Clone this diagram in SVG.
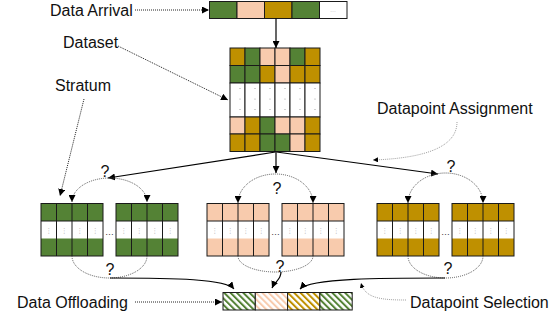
<svg xmlns="http://www.w3.org/2000/svg" width="559" height="320" viewBox="0 0 559 320">
<defs>
<style>
.lbl{font-family:"Liberation Sans",Arial,sans-serif;font-size:16px;fill:#111}
.q{font-family:"Liberation Sans",Arial,sans-serif;font-size:16px;fill:#111;text-anchor:middle}
.g{fill:#548235}.p{fill:#F8CBAD}.o{fill:#BF9000}.w{fill:#fff}
.cell{stroke:#1a1a1a;stroke-width:1}
.vd{font-family:"DejaVu Sans",sans-serif;font-size:7px;fill:#aaa;text-anchor:middle}
.ell{font-family:"Liberation Sans",Arial,sans-serif;font-size:9px;fill:#333;text-anchor:middle}
.solid{fill:none;stroke:#000;stroke-width:1.2}
.dot{fill:none;stroke:#222;stroke-width:1;stroke-dasharray:1 1}
.arc{fill:none;stroke:#555;stroke-width:1;stroke-dasharray:1 1}
.lead{fill:none;stroke:#888;stroke-width:0.8;stroke-dasharray:1 1}
</style>
<marker id="ah" viewBox="0 0 10 10" refX="10" refY="5" markerWidth="7" markerHeight="7" markerUnits="userSpaceOnUse" orient="auto-start-reverse"><path d="M0,0L10,5L0,10z" fill="#000"/></marker>
<marker id="ahs" viewBox="0 0 10 10" refX="10" refY="5" markerWidth="5" markerHeight="5" markerUnits="userSpaceOnUse" orient="auto"><path d="M0,0L10,5L0,10z" fill="#000"/></marker>
<pattern id="hg" width="4.5" height="4.5" patternUnits="userSpaceOnUse" patternTransform="rotate(-45)"><rect width="4.5" height="4.5" fill="#fff"/><rect width="2" height="4.5" fill="#548235"/></pattern>
<pattern id="hp" width="4.5" height="4.5" patternUnits="userSpaceOnUse" patternTransform="rotate(-45)"><rect width="4.5" height="4.5" fill="#fff"/><rect width="2" height="4.5" fill="#F8CBAD"/></pattern>
<pattern id="ho" width="4.5" height="4.5" patternUnits="userSpaceOnUse" patternTransform="rotate(-45)"><rect width="4.5" height="4.5" fill="#fff"/><rect width="2" height="4.5" fill="#BF9000"/></pattern>
</defs>
<rect width="559" height="320" fill="#fff"/>

<g id="data-arrival">
<rect class="g cell" x="209.5" y="1.5" width="27.5" height="17"/>
<rect class="p cell" x="237" y="1.5" width="27.5" height="17"/>
<rect class="o cell" x="264.5" y="1.5" width="27.5" height="17"/>
<rect class="g cell" x="292" y="1.5" width="27.5" height="17"/>
<rect class="w cell" x="319.5" y="1.5" width="27.5" height="17"/>
<text x="333" y="12" style="font-family:'Liberation Sans',sans-serif;font-size:6px;fill:#999;text-anchor:middle">…</text>
</g>

<g id="dataset">
<rect class="o cell" x="230" y="48" width="15" height="17.5"/>
<rect class="g cell" x="245" y="48" width="15" height="17.5"/>
<rect class="p cell" x="260" y="48" width="15" height="17.5"/>
<rect class="p cell" x="275" y="48" width="15" height="17.5"/>
<rect class="g cell" x="290" y="48" width="15" height="17.5"/>
<rect class="o cell" x="305" y="48" width="15" height="17.5"/>
<rect class="g cell" x="230" y="65.5" width="15" height="17.5"/>
<rect class="g cell" x="245" y="65.5" width="15" height="17.5"/>
<rect class="o cell" x="260" y="65.5" width="15" height="17.5"/>
<rect class="p cell" x="275" y="65.5" width="15" height="17.5"/>
<rect class="o cell" x="290" y="65.5" width="15" height="17.5"/>
<rect class="o cell" x="305" y="65.5" width="15" height="17.5"/>
<rect class="w cell" x="230" y="83" width="15" height="34"/>
<rect class="w cell" x="245" y="83" width="15" height="34"/>
<rect class="w cell" x="260" y="83" width="15" height="34"/>
<rect class="w cell" x="275" y="83" width="15" height="34"/>
<rect class="w cell" x="290" y="83" width="15" height="34"/>
<rect class="w cell" x="305" y="83" width="15" height="34"/>
<rect class="p cell" x="230" y="117" width="15" height="17"/>
<rect class="o cell" x="245" y="117" width="15" height="17"/>
<rect class="g cell" x="260" y="117" width="15" height="17"/>
<rect class="p cell" x="275" y="117" width="15" height="17"/>
<rect class="p cell" x="290" y="117" width="15" height="17"/>
<rect class="o cell" x="305" y="117" width="15" height="17"/>
<rect class="o cell" x="230" y="134" width="15" height="17.5"/>
<rect class="o cell" x="245" y="134" width="15" height="17.5"/>
<rect class="g cell" x="260" y="134" width="15" height="17.5"/>
<rect class="g cell" x="275" y="134" width="15" height="17.5"/>
<rect class="p cell" x="290" y="134" width="15" height="17.5"/>
<rect class="o cell" x="305" y="134" width="15" height="17.5"/>
<g fill="#999">
<circle cx="240" cy="88.5" r="0.6"/><circle cx="240" cy="99" r="0.6"/><circle cx="240" cy="109.5" r="0.6"/>
<circle cx="255" cy="88.5" r="0.6"/><circle cx="255" cy="99" r="0.6"/><circle cx="255" cy="109.5" r="0.6"/>
<circle cx="270" cy="88.5" r="0.6"/><circle cx="270" cy="99" r="0.6"/><circle cx="270" cy="109.5" r="0.6"/>
<circle cx="285" cy="88.5" r="0.6"/><circle cx="285" cy="99" r="0.6"/><circle cx="285" cy="109.5" r="0.6"/>
<circle cx="300" cy="88.5" r="0.6"/><circle cx="300" cy="99" r="0.6"/><circle cx="300" cy="109.5" r="0.6"/>
<circle cx="315" cy="88.5" r="0.6"/><circle cx="315" cy="99" r="0.6"/><circle cx="315" cy="109.5" r="0.6"/>
</g>
</g>

<g id="stratum-green-1" transform="translate(41,203.5)">
<rect class="g" x="0" y="0" width="62" height="17.5"/><rect class="g" x="0" y="35" width="62" height="17.5"/>
<path d="M0,17.5H62M15.5,0V52.5M31,0V52.5M46.5,0V52.5" class="cell" fill="none"/>
<rect x="0" y="0" width="62" height="52.5" fill="none" class="cell"/>
<text class="vd" x="7.75" y="29">⋮</text><text class="vd" x="23.25" y="29">⋮</text><text class="vd" x="38.75" y="29">⋮</text><text class="vd" x="54.25" y="29">⋮</text>
</g>
<g id="stratum-green-2" transform="translate(116,203.5)">
<rect class="g" x="0" y="0" width="62" height="17.5"/><rect class="g" x="0" y="35" width="62" height="17.5"/>
<path d="M0,17.5H62M15.5,0V52.5M31,0V52.5M46.5,0V52.5" class="cell" fill="none"/>
<rect x="0" y="0" width="62" height="52.5" fill="none" class="cell"/>
<text class="vd" x="7.75" y="29">⋮</text><text class="vd" x="23.25" y="29">⋮</text><text class="vd" x="38.75" y="29">⋮</text><text class="vd" x="54.25" y="29">⋮</text>
</g>
<g id="stratum-peach-1" transform="translate(207,203.5)">
<rect class="p" x="0" y="0" width="62" height="17.5"/><rect class="p" x="0" y="35" width="62" height="17.5"/>
<path d="M0,17.5H62M15.5,0V52.5M31,0V52.5M46.5,0V52.5" class="cell" fill="none"/>
<rect x="0" y="0" width="62" height="52.5" fill="none" class="cell"/>
<text class="vd" x="7.75" y="29">⋮</text><text class="vd" x="23.25" y="29">⋮</text><text class="vd" x="38.75" y="29">⋮</text><text class="vd" x="54.25" y="29">⋮</text>
</g>
<g id="stratum-peach-2" transform="translate(282,203.5)">
<rect class="p" x="0" y="0" width="62" height="17.5"/><rect class="p" x="0" y="35" width="62" height="17.5"/>
<path d="M0,17.5H62M15.5,0V52.5M31,0V52.5M46.5,0V52.5" class="cell" fill="none"/>
<rect x="0" y="0" width="62" height="52.5" fill="none" class="cell"/>
<text class="vd" x="7.75" y="29">⋮</text><text class="vd" x="23.25" y="29">⋮</text><text class="vd" x="38.75" y="29">⋮</text><text class="vd" x="54.25" y="29">⋮</text>
</g>
<g id="stratum-gold-1" transform="translate(377,203.5)">
<rect class="o" x="0" y="0" width="62" height="17.5"/><rect class="o" x="0" y="35" width="62" height="17.5"/>
<path d="M0,17.5H62M15.5,0V52.5M31,0V52.5M46.5,0V52.5" class="cell" fill="none"/>
<rect x="0" y="0" width="62" height="52.5" fill="none" class="cell"/>
<text class="vd" x="7.75" y="29">⋮</text><text class="vd" x="23.25" y="29">⋮</text><text class="vd" x="38.75" y="29">⋮</text><text class="vd" x="54.25" y="29">⋮</text>
</g>
<g id="stratum-gold-2" transform="translate(452,203.5)">
<rect class="o" x="0" y="0" width="62" height="17.5"/><rect class="o" x="0" y="35" width="62" height="17.5"/>
<path d="M0,17.5H62M15.5,0V52.5M31,0V52.5M46.5,0V52.5" class="cell" fill="none"/>
<rect x="0" y="0" width="62" height="52.5" fill="none" class="cell"/>
<text class="vd" x="7.75" y="29">⋮</text><text class="vd" x="23.25" y="29">⋮</text><text class="vd" x="38.75" y="29">⋮</text><text class="vd" x="54.25" y="29">⋮</text>
</g>
<g id="ellipses">
<text class="ell" x="109.5" y="235">…</text>
<text class="ell" x="275.5" y="235">…</text>
<text class="ell" x="445.5" y="235">…</text>
</g>

<g id="data-offloaded">
<rect x="223" y="292.5" width="32.3" height="17.5" fill="url(#hg)" class="cell"/>
<rect x="255.3" y="292.5" width="32.3" height="17.5" fill="url(#hp)" class="cell"/>
<rect x="287.6" y="292.5" width="32.3" height="17.5" fill="url(#ho)" class="cell"/>
<rect x="319.9" y="292.5" width="32.3" height="17.5" fill="url(#hg)" class="cell"/>
</g>

<g id="labels">
<text class="lbl" x="50" y="16">Data Arrival</text>
<text class="lbl" x="63" y="48">Dataset</text>
<text class="lbl" x="55" y="91">Stratum</text>
<text class="lbl" x="377" y="114">Datapoint Assignment</text>
<text class="lbl" x="17" y="308">Data Offloading</text>
<text class="lbl" x="410" y="308">Datapoint Selection</text>
</g>

<g id="questions">
<text class="q" x="105" y="177">?</text>
<text class="q" x="277" y="194">?</text>
<text class="q" x="451" y="172">?</text>
<text class="q" x="110" y="275">?</text>
<text class="q" x="280" y="272">?</text>
<text class="q" x="448" y="274">?</text>
</g>

<g id="connectors">
<path class="solid" d="M276,18.5V48" marker-end="url(#ah)"/>
<path class="solid" d="M275.5,152L108,178" marker-end="url(#ah)"/>
<path class="solid" d="M276,152V173" marker-end="url(#ah)"/>
<path class="solid" d="M276.5,152L438,174" marker-end="url(#ah)"/>
<path class="arc" d="M72,202A37.5,24 0 0 1 147,202" marker-start="url(#ah)" marker-end="url(#ah)"/>
<path class="arc" d="M238,203A37.5,29 0 0 1 313,203" marker-start="url(#ah)" marker-end="url(#ah)"/>
<path class="arc" d="M408,203A37.5,30 0 0 1 483,203" marker-start="url(#ah)" marker-end="url(#ah)"/>
<path class="arc" d="M72,256A37.5,22 0 0 0 147,256"/>
<path class="arc" d="M238,256A37.5,16 0 0 0 313,256"/>
<path class="arc" d="M408,256A37.5,22 0 0 0 483,256"/>
<path class="solid" d="M110,278C175,278 226,279 234,289" marker-end="url(#ah)"/>
<path class="solid" d="M281,272C281,280 275,281 272,288" marker-end="url(#ah)"/>
<path class="solid" d="M445,278C385,278 310,278 300,289" marker-end="url(#ah)"/>
<path class="dot" d="M135,10H209" marker-end="url(#ah)"/>
<path class="dot" d="M118,46L228,100" marker-end="url(#ah)"/>
<path class="dot" d="M84,99L60,196" marker-end="url(#ah)"/>
<path class="dot" d="M135,302H222" marker-end="url(#ah)"/>
<path class="lead" d="M457,122C457,145 430,158 373,160" marker-end="url(#ahs)"/>
<path class="lead" d="M406,300C380,300 365,298 361,283" marker-end="url(#ahs)"/>
</g>
</svg>
